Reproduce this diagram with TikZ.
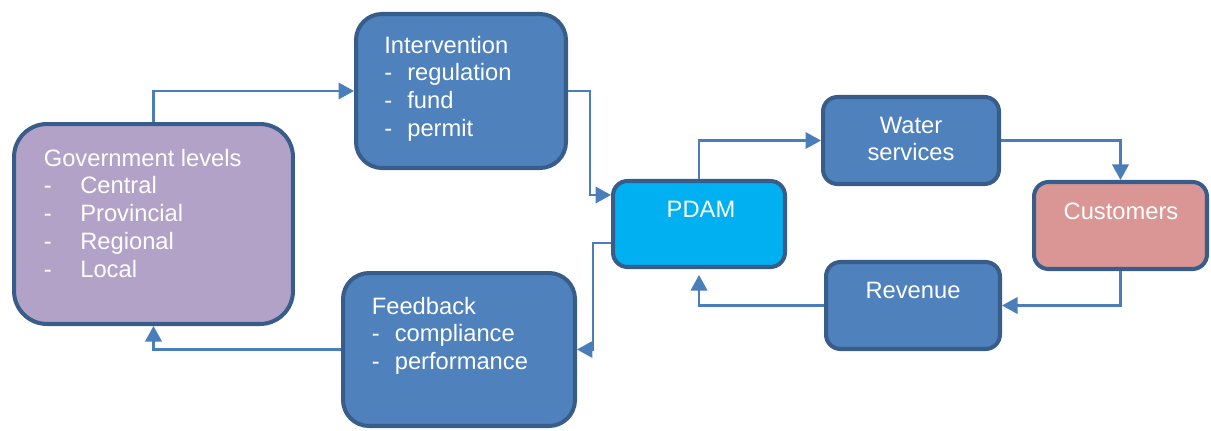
\documentclass[tikz,border=0pt]{standalone}
\usepackage{fontspec}
\setmainfont{Liberation Sans}
\usepackage{tikz}
\usetikzlibrary{arrows.meta}

\definecolor{boxblue}{HTML}{4F81BD}
\definecolor{boxline}{HTML}{385D8A}
\definecolor{govpurple}{HTML}{B3A2C7}
\definecolor{pdamcyan}{HTML}{00B0F0}
\definecolor{custrose}{HTML}{D99694}
\definecolor{linkblue}{HTML}{4A7EBB}

\tikzset{
  box/.style={draw=boxline, line width=2.3pt, fill=boxblue, rounded corners=0.29cm, inner sep=0pt},
  bigbox/.style={box, rounded corners=0.52cm},
  link/.style={draw=linkblue, line width=1.2pt, -{Triangle[length=0.31cm,width=0.33cm]}},
  boxtext/.style={text=white, inner sep=0pt, font=\fontsize{13.5}{15.8}\selectfont}
}

\begin{document}
\begin{tikzpicture}[x=0.02cm, y=-0.02cm]
	\useasboundingbox (0,0) rectangle (1211,430);

	% Boxes:
	\node[bigbox, fill=govpurple, rounded corners=0.66cm, minimum width=5.58cm, minimum height=4.0cm] (gov) at (153.5,224) {};
	\node[bigbox, minimum width=4.2cm, minimum height=3.08cm] (interv) at (461,91) {};
	\node[bigbox, minimum width=4.64cm, minimum height=3.06cm] (feed) at (459,349.5) {};
	\node[box, fill=pdamcyan, minimum width=3.44cm, minimum height=1.72cm] (pdam) at (699,224) {};
	\node[box, minimum width=3.52cm, minimum height=1.74cm] (water) at (911,140.5) {};
	\node[box, fill=custrose, minimum width=3.46cm, minimum height=1.74cm] (cust) at (1120.5,225.5) {};
	\node[box, minimum width=3.48cm, minimum height=1.74cm] (rev) at (913,305.5) {};

	% Texts:
	\node[boxtext, anchor=base west] (govtext) at (43.5,166) {\begin{tabular}[t]{@{}l@{}}Government levels\\
		\makebox[0.73cm][l]{-}Central\\
		\makebox[0.73cm][l]{-}Provincial\\
		\makebox[0.73cm][l]{-}Regional\\
		\makebox[0.73cm][l]{-}Local\end{tabular}};
	\node[boxtext, anchor=base west] (intervtext) at (384,53) {\begin{tabular}[t]{@{}l@{}}Intervention\\
		\makebox[0.46cm][l]{-}regulation\\
		\makebox[0.46cm][l]{-}fund\\
		\makebox[0.46cm][l]{-}permit\end{tabular}};
	\node[boxtext, anchor=base west] (feedtext) at (371.5,314) {\begin{tabular}[t]{@{}l@{}}Feedback\\
		\makebox[0.46cm][l]{-}compliance\\
		\makebox[0.46cm][l]{-}performance\end{tabular}};
	\node[boxtext, anchor=base] (pdamtext) at (701,217) {PDAM};
	\node[boxtext, anchor=base] (watertext) at (911,133) {\begin{tabular}[t]{@{}c@{}}Water\\services\end{tabular}};
	\node[boxtext, anchor=base] (custtext) at (1121,219) {Customers};
	\node[boxtext, anchor=base] (revtext) at (913,298) {Revenue};

	% Connectors:
	\draw[link] (gov.north) |- (interv.west);
	\draw[link] (interv.east) -| ([xshift=-0.42cm,yshift=0.58cm]pdam.west) -- ([yshift=0.58cm]pdam.west);
	\draw[link] ([yshift=-0.38cm]pdam.west) -- ++(-0.36cm,0) |- (feed.east);
	\draw[link] (feed.west) -| (gov.south);
	\draw[link] (pdam.north) |- (water.west);
	\draw[link] (water.east) -| (cust.north);
	\draw[link] (cust.south) |- (rev.east);
	\draw[link, shorten >=0.12cm] (rev.west) -| (pdam.south);
\end{tikzpicture}
\end{document}
